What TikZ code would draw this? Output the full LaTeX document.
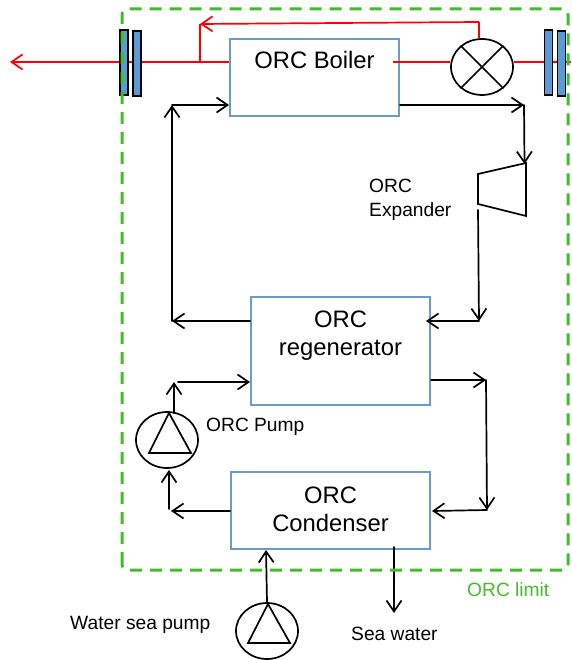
\documentclass[tikz,border=0pt]{standalone}
\usepackage{fontspec}
\setmainfont{Liberation Sans}
\usetikzlibrary{arrows.meta,shapes.geometric,calc}
\definecolor{boxblue}{HTML}{6A9BC9}
\definecolor{plateblue}{HTML}{5B9BD5}
\definecolor{limitgreen}{HTML}{44BB2C}
\tikzset{
  unitbox/.style={draw=boxblue,line width=1.9pt,fill=white,inner sep=0pt,align=center,font=\fontsize{23.8}{28}\selectfont},
  plate/.style={draw=black,line width=1.5pt,fill=plateblue,inner sep=0pt,minimum width=8pt,minimum height=65pt},
  flow/.style={line width=1.7pt,draw=black,line cap=round},
  flowtip/.style={flow,-{Straight Barb[length=11pt,width=15pt,line width=1.7pt]}},
  hot/.style={line width=1.7pt,draw=red},
  hottip/.style={hot,-{Straight Barb[length=11pt,width=15pt,line width=1.7pt]}},
  symbol/.style={draw=black,line width=1.7pt,inner sep=0pt,fill=white},
  wheel/.style={symbol,ellipse,minimum width=62pt,minimum height=56pt},
  caption/.style={inner sep=0pt,align=left,font=\fontsize{19.2}{24}\selectfont},
  limit/.style={draw=limitgreen,line width=3pt,dash pattern=on 12pt off 8pt}
}
\begin{document}
\begin{tikzpicture}[x=1pt,y=-1pt]
\useasboundingbox (0,0) rectangle (571,660);

% ----- hot stream (behind the units)
\coordinate (hotEnd) at (10,62);
\coordinate (hotTee) at (200,62);
\coordinate (hotTop) at (200,24);
\coordinate (hotCorner) at (479,22);
\coordinate (hotIn) at (571,62);
\coordinate (hotBoil) at (393,62);

% ----- units
\node[unitbox,minimum width=169pt,minimum height=77pt] (boiler) at (314.5,77.5)
  {\raisebox{9pt}[0pt][0pt]{ORC Boiler}};
\node[unitbox,minimum width=179pt,minimum height=108pt] (regen) at (340.5,351)
  {\raisebox{9pt}[0pt][0pt]{\begin{tabular}{@{}c@{}}ORC\\regenerator\end{tabular}}};
\node[unitbox,minimum width=199pt,minimum height=77pt] (cond) at (330.5,510.5)
  {\raisebox{-7.5pt}[0pt][0pt]{\begin{tabular}{@{}c@{}}ORC\\Condenser\end{tabular}}};

\node[wheel] (valve) at (482,67) {};
\draw[symbol] (valve.45) -- (valve.225) (valve.135) -- (valve.315);

\node[plate] (plateLa) at (124,62.5) {};
\node[plate] (plateLb) at (137,63.5) {};
\node[plate] (plateRa) at (548.5,62.5) {};
\node[plate] (plateRb) at (561.5,63.5) {};

% ----- hot connectors
\draw[hottip] (plateLa.west |- hotEnd) -- (hotEnd);
\draw[hot] (plateLa.east |- hotEnd) -- (plateLb.west |- hotEnd);
\draw[hot] (boiler.west |- hotEnd) -- (plateLb.east |- hotEnd);
\draw[hot] (hotTee) -- (hotTop);
\draw[hottip] (hotCorner) -- (hotTop);
\draw[hot] (valve.north -| hotCorner) -- (hotCorner);
\draw[hot] (hotBoil) -- (valve.west |- hotBoil);
\draw[hot] (valve.east |- hotBoil) -- (plateRa.west |- hotBoil);
\draw[hot] (plateRa.east |- hotBoil) -- (plateRb.west |- hotBoil);
\draw[hot] (plateRb.east |- hotBoil) -- (hotIn);

% ----- expander and pumps
\coordinate (expA) at (478,174);
\coordinate (expB) at (526,163);
\coordinate (expC) at (526,216);
\coordinate (expD) at (478,204);
\draw[symbol,fill=none] (expA) -- (expB) -- (expC) -- (expD) -- cycle;

\node[wheel] (orcPump) at (167,440) {};
\draw[symbol,fill=none] (169,413) -- (149,453) -- (191,453) -- cycle;
\node[wheel] (seaPump) at (267,631) {};
\draw[symbol,fill=none] (268,604) -- (248,643) -- (290,643) -- cycle;

% ----- working-fluid loop
\coordinate (c1) at (524,105);
\coordinate (c2) at (479,321);
\coordinate (c2t) at (426,321);
\coordinate (c3) at (172,321);
\coordinate (c4) at (172,105);
\coordinate (c5) at (174,382);
\coordinate (c6) at (178,382);
\coordinate (c7) at (171,511);
\coordinate (c8) at (169,509);
\coordinate (c9) at (486,380);
\coordinate (c10) at (487,510);
\coordinate (c10t) at (432,511);
\coordinate (c11) at (478,210);
\coordinate (c12) at (524.5,164);
\coordinate (c13) at (174,413);
\coordinate (c14) at (169,470);

\draw[flowtip] (boiler.east |- c1) -- (c1);
\draw[flowtip] (c1) -- (c12);
\draw[flowtip] (c11) -- (c2);
\draw[flowtip] (c2) -- (c2t);
\draw[flowtip] (regen.west |- c3) -- (c3);
\draw[flowtip] (c3) -- (c4);
\draw[flowtip] (c4) -- (boiler.west |- c4);
\draw[flowtip] (c13) -- (c5);
\draw[flowtip] (c6) -- (regen.west |- c6);
\draw[flowtip] (cond.west |- c7) -- (c7);
\draw[flowtip] (c8) -- (c14);
\draw[flowtip] (regen.east |- c9) -- (c9);
\draw[flowtip] (c9) -- (c10);
\draw[flowtip] (c10) -- (c10t);

% ----- sea water
\coordinate (s1) at (266,550);
\coordinate (s2) at (394,547);
\coordinate (s3) at (394,613);
\draw[flowtip] (seaPump.north) -- (s1);
\draw[flowtip] (s2) -- (s3);

% ----- limit
\draw[limit,rounded corners=6pt] (122,570) -- (122,9) -- (568,9) -- (568,570) -- cycle;

% ----- captions
\node[caption,anchor=west] (expLabel) at (369,200) {ORC\\Expander};
\node[caption,anchor=west] (pumpLabel) at (206,427) {ORC Pump};
\node[caption,anchor=west] (seaPumpLabel) at (70,625) {Water sea pump};
\node[caption,anchor=west] (seaLabel) at (351,634) {Sea water};
\node[caption,anchor=west,text=limitgreen] (limitLabel) at (467,590) {ORC limit};
\end{tikzpicture}
\end{document}
